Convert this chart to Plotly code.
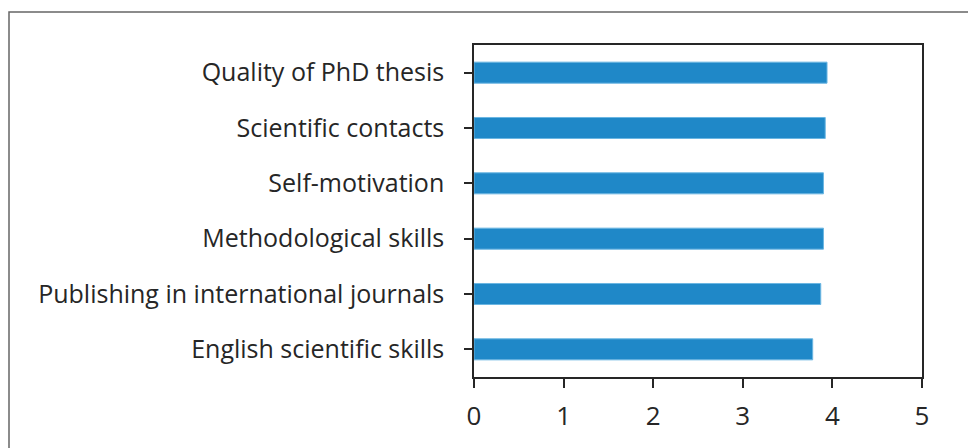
import plotly.graph_objects as go

categories = ["English scientific skills", "Publishing in international journals",
              "Methodological skills", "Self-motivation", "Scientific contacts",
              "Quality of PhD thesis"]
values = [3.78, 3.87, 3.90, 3.90, 3.92, 3.94]
x_ticks = [0, 1, 2, 3, 4, 5]

OFF = 8  # default page body margin
W, H = 976, 448
L, R, T, B = 474 - OFF, 922 - OFF, 45 - OFF, 377 - OFF

fig = go.Figure(go.Bar(
    x=values, y=categories, orientation="h",
    marker=dict(color="#1f88c8", line=dict(color="#6bb6e2", width=1)),
    width=0.38,
))

font_family = "Open Sans"
fig.update_layout(
    width=W, height=H,
    margin=dict(l=L, r=W - R, t=T, b=H - B),
    plot_bgcolor="white", paper_bgcolor="white",
    showlegend=False,
    font=dict(family=font_family, color="#262626"),
)
fig.update_xaxes(
    range=[0, 5], tickvals=x_ticks, showgrid=False, zeroline=False,
    showline=True, linecolor="#262626", linewidth=1.5, mirror=True,
    ticks="outside", ticklen=9, tickcolor="#262626", tickwidth=1.5,
    tickfont=dict(size=26, family=font_family, color="#262626"),
    ticklabelstandoff=6, fixedrange=True,
)
fig.update_yaxes(
    range=[-0.5, 5.5], showgrid=False, zeroline=False,
    showline=True, linecolor="#262626", linewidth=1.5, mirror=True,
    ticks="outside", ticklen=8, tickcolor="#262626", tickwidth=1.5,
    tickfont=dict(size=25, family=font_family, color="#262626"),
    ticklabelstandoff=15, fixedrange=True,
)

# outer frame of the figure panel
px = lambda v: (v - OFF - L) / (R - L)
py = lambda v: (B - (v - OFF)) / (B - T)
fig.add_shape(type="rect", xref="paper", yref="paper",
              x0=px(9), x1=px(1000), y0=py(12), y1=py(480),
              line=dict(color="#666666", width=1.5), layer="below")

fig.write_html("out.html")
